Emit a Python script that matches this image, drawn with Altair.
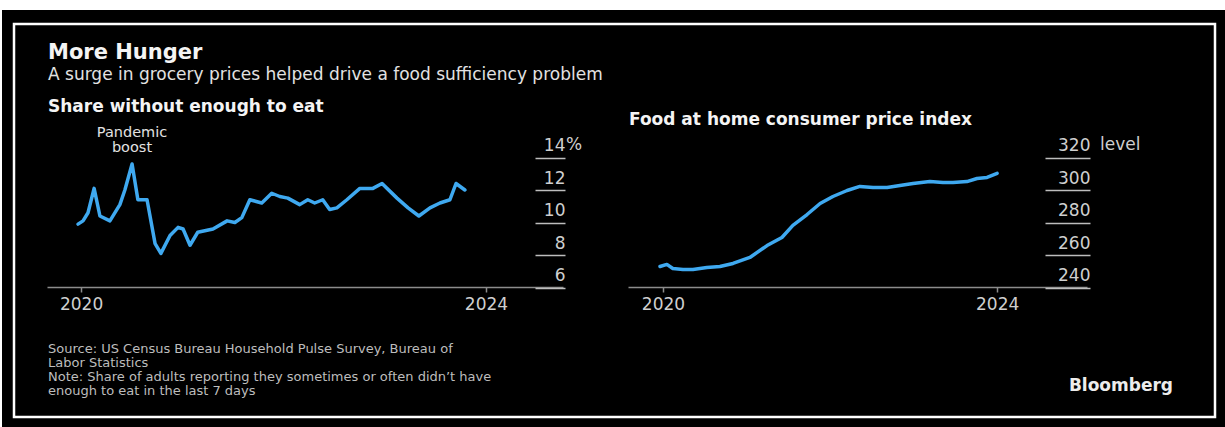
import altair as alt
import pandas as pd

# ---- data ----
hunger_dates = [
    "2019-12-21", "2020-01-08", "2020-01-26", "2020-02-17", "2020-03-09", "2020-04-14",
    "2020-05-20", "2020-06-07", "2020-07-03", "2020-07-24", "2020-08-26", "2020-09-24",
    "2020-10-15", "2020-11-17", "2020-12-16", "2021-01-03", "2021-01-28", "2021-02-25",
    "2021-04-21", "2021-06-11", "2021-07-09", "2021-08-03", "2021-09-01", "2021-10-14",
    "2021-11-19", "2021-12-18", "2022-01-16", "2022-02-28", "2022-03-29", "2022-04-23",
    "2022-05-22", "2022-06-16", "2022-07-12", "2022-08-17", "2022-10-03", "2022-11-19",
    "2022-12-22", "2023-02-14", "2023-03-26", "2023-05-04", "2023-06-13", "2023-07-19",
    "2023-08-24", "2023-09-15", "2023-10-17",
]
hunger_share = [
    9.9, 10.1, 10.6, 12.1, 10.4, 10.1,
    11.1, 12.0, 13.6, 11.4, 11.4, 8.7,
    8.1, 9.2, 9.7, 9.6, 8.6, 9.4,
    9.6, 10.1, 10.0, 10.3, 11.4, 11.2,
    11.8, 11.6, 11.5, 11.1, 11.4, 11.2,
    11.4, 10.8, 10.9, 11.4, 12.1, 12.1,
    12.4, 11.5, 10.9, 10.4, 10.9, 11.2,
    11.4, 12.4, 12.0,
]
cpi_dates = [
    "2019-12-19", "2020-01-18", "2020-02-13", "2020-03-28", "2020-05-11", "2020-07-11",
    "2020-09-06", "2020-11-02", "2021-01-15", "2021-03-31", "2021-06-04", "2021-07-22",
    "2021-09-22", "2021-11-18", "2022-01-13", "2022-03-16", "2022-05-11", "2022-07-07",
    "2022-09-07", "2022-11-02", "2022-12-29", "2023-03-13", "2023-05-09", "2023-06-22",
    "2023-08-22", "2023-10-05", "2023-11-18", "2024-01-01",
]
cpi_level = [
    252.9, 254.2, 251.7, 251.1, 251.1, 252.3,
    252.9, 254.8, 258.5, 265.8, 270.8, 278.2,
    284.9, 291.7, 296.0, 299.7, 302.2, 301.5,
    301.5, 302.8, 304.0, 305.2, 304.6, 304.6,
    305.2, 307.1, 307.7, 310.2,
]
share_ticks = [6, 8, 10, 12, 14]
level_ticks = [240, 260, 280, 300, 320]
year_ticks = [2020, 2024]

# ---- styling ----
BLUE = "#3fa9f0"
FONT = "DejaVu Sans"
W, H = 1223, 417
OX, OY = 2, 10
LABEL = "#cfcfcf"
AXIS = "#8c8c8c"

hunger = pd.DataFrame({"date": hunger_dates, "share": hunger_share})
cpi = pd.DataFrame({"date": cpi_dates, "level": cpi_level})
one = pd.DataFrame({"k": [0]})


def dt(y, m, d):
    return alt.DateTime(year=y, month=m, date=d, utc=True)


def x_axis():
    return alt.Axis(
        orient="bottom", offset=-140, values=[dt(y, 1, 1) for y in year_ticks],
        format="%Y", title=None, grid=False,
        domainColor=AXIS, domainWidth=1.5, tickColor=AXIS, tickWidth=1.5, tickSize=5,
        labelFont=FONT, labelFontSize=17, labelColor=LABEL, labelPadding=17,
        labelBaseline="alphabetic", labelFlush=False, labelOverlap=False,
    )


def y_axis(offset, ticks, tick_size):
    return alt.Axis(
        orient="right", offset=offset, values=ticks, title=None, grid=False,
        domain=False, tickColor="#bdbdbd", tickWidth=1.5, tickSize=tick_size,
        labelFont=FONT, labelFontSize=17, labelColor=LABEL, labelAlign="right",
        labelPadding=0, labelBaseline="alphabetic", labelOffset=-7, labelOverlap=False,
    )


left = alt.Chart(hunger).mark_line(
    color=BLUE, strokeWidth=3.5, strokeJoin="round", strokeCap="round"
).encode(
    x=alt.X("date:T", scale=alt.Scale(type="utc", domain=[dt(2019, 8, 31), dt(2024, 10, 5)],
                                      range=[45, 561], nice=False), axis=x_axis()),
    y=alt.Y("share:Q", scale=alt.Scale(domain=[6, 14], range=[277.5, 147.5], nice=False, zero=False),
            axis=y_axis(533 - W, share_ticks, 30)),
)

right = alt.Chart(cpi).mark_line(
    color=BLUE, strokeWidth=3.5, strokeJoin="round", strokeCap="round"
).encode(
    x=alt.X("date:T", scale=alt.Scale(type="utc", domain=[dt(2019, 8, 1), dt(2025, 1, 28)],
                                      range=[626, 1085], nice=False), axis=x_axis()),
    y=alt.Y("level:Q", scale=alt.Scale(domain=[240, 320], range=[277.5, 147.5], nice=False, zero=False),
            axis=y_axis(1043 - W, level_ticks, 45)),
)

frame = alt.Chart(one).mark_rect(fillOpacity=0, stroke="white", strokeWidth=2.5).encode(
    x=alt.value(14 - OX), x2=alt.value(1215 - OX), y=alt.value(24 - OY), y2=alt.value(417 - OY)
)


def txt(text, x, y, size, color, weight="normal", align="left"):
    return alt.Chart(one).mark_text(
        text=text, align=align, baseline="alphabetic", font=FONT, fontSize=size,
        fontWeight=weight, color=color,
    ).encode(x=alt.value(x - OX), y=alt.value(y - OY))


SRC = "#bdbdbd"
texts = [
    txt("More Hunger", 48, 59, 21, "#f4f4f4", "bold"),
    txt("A surge in grocery prices helped drive a food sufficiency problem", 48, 80, 17, "#e2e2e2"),
    txt("Share without enough to eat", 48, 112, 17, "#f4f4f4", "bold"),
    txt("Food at home consumer price index", 629, 125, 17, "#f4f4f4", "bold"),
    txt("Pandemic", 132, 137, 14.5, "#e2e2e2", align="center"),
    txt("boost", 132, 152, 14.5, "#e2e2e2", align="center"),
    txt("%", 566, 150, 17, LABEL),
    txt("level", 1100, 150, 17, LABEL),
    txt("Source: US Census Bureau Household Pulse Survey, Bureau of", 48, 353, 13, SRC),
    txt("Labor Statistics", 48, 367, 13, SRC),
    txt("Note: Share of adults reporting they sometimes or often didn\u2019t have", 48, 381, 13, SRC),
    txt("enough to eat in the last 7 days", 48, 395, 13, SRC),
    txt("Bloomberg", 1173, 391, 17, "#ececec", "bold", align="right"),
]

chart = alt.layer(frame, left, right, *texts).resolve_scale(
    x="independent", y="independent"
).properties(
    width=W, height=H,
    padding={"left": OX, "top": OY, "right": 0, "bottom": 0},
    autosize=alt.AutoSizeParams(type="none"),
    background="white",
).configure_view(fill="black", strokeWidth=0)

chart.save("out.html", embed_options={"renderer": "svg", "actions": False})
